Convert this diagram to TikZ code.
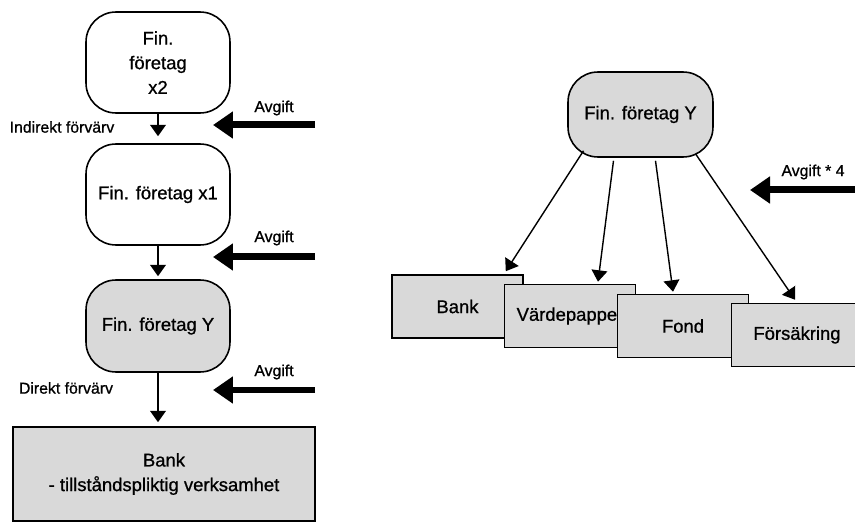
\documentclass[tikz,border=0pt]{standalone}
\usepackage{fontspec}
\setmainfont{Liberation Sans}[UprightFeatures={FakeBold=0.8}]
\usetikzlibrary{arrows.meta,calc}
\definecolor{boxgray}{gray}{0.85}
\tikzset{
  firm/.style={draw, line width=0.9pt, rounded corners=0.6cm, align=center, font=\fontsize{10.5}{14}\selectfont},
  firmgray/.style={firm, fill=boxgray},
  unitbox/.style={draw, line width=0.9pt, fill=boxgray, minimum width=2.62cm, minimum height=1.26cm, font=\fontsize{10.5}{14}\selectfont},
  arr/.style={-{Triangle[length=6.5pt,width=9pt]}, line width=0.8pt},
  fee/.style={-{Triangle[length=0.4cm,width=0.52cm]}, line width=0.14cm},
  lbl/.style={font=\fontsize{9}{11}\selectfont}
}
\begin{document}
\begin{tikzpicture}[x=0.02cm, y=-0.02cm]
        \useasboundingbox (0,0) rectangle (855,523);
        % left chain
        \node[firm, minimum width=2.88cm, minimum height=2.02cm] (x2) at (158,62.5) {Fin.\\företag\\x2};
        \node[firm, minimum width=2.88cm, minimum height=2.02cm] (x1) at (158,194.5) {Fin. företag x1};
        \node[firmgray, minimum width=2.88cm, minimum height=1.84cm] (yL) at (158,326) {Fin. företag Y};
        \node[unitbox, minimum width=6.04cm, minimum height=1.88cm, align=center] (bankL) at (164,474) {Bank\\- tillståndspliktig verksamhet};
        \draw[arr, shorten >=7*0.02cm] (x2) -- (x1);
        \draw[arr, shorten >=3*0.02cm] (x1) -- (yL);
        \draw[arr, shorten >=4*0.02cm] (yL.south) -- (yL.south |- bankL.north);
        \node[lbl] (indirekt) at (62,127) {Indirekt förvärv};
        \node[lbl] (direkt) at (66,388) {Direkt förvärv};
        % fees
        \node[lbl] (fee1) at (274,108) {Avgift};
        \node[lbl] (fee2) at (274,238) {Avgift};
        \node[lbl] (fee3) at (274,372) {Avgift};
        \coordinate (fee1s) at (315,125);
        \coordinate (fee1e) at (213,125);
        \coordinate (fee2s) at (315,257);
        \coordinate (fee2e) at (213,257);
        \coordinate (fee3s) at (315,390);
        \coordinate (fee3e) at (213,390);
        \draw[fee] (fee1s) -- (fee1e);
        \draw[fee] (fee2s) -- (fee2e);
        \draw[fee] (fee3s) -- (fee3e);
        % right group
        \node[firmgray, minimum width=2.9cm, minimum height=1.7cm] (yR) at (640.5,114.5) {Fin. företag Y};
        \node[unitbox] (bankS) at (457.5,306.5) {Bank};
        \node[unitbox] (papper) at (570,316) {Värdepapper};
        \node[unitbox] (fond) at (683,326) {Fond};
        \node[unitbox] (forsakring) at (797,335) {Försäkring};
        \draw[arr] ($(yR.south)+(-57,-7)$) -- ($(bankS.north east)+(-18,-3)$);
        \draw[arr] ($(yR.south)+(-27,3)$) -- ($(papper.north)+(28,-2)$);
        \draw[arr] ($(yR.south)+(15,3)$) -- ($(fond.north)+(-10,-2)$);
        \draw[arr] ($(yR.south)+(55,-4)$) -- ($(forsakring.north)+(-2,-3)$);
        \node[lbl] (fee4) at (813,172) {Avgift * 4};
        \coordinate (fee4s) at (855,190);
        \coordinate (fee4e) at (750,190);
        \draw[fee] (fee4s) -- (fee4e);
    \end{tikzpicture}
\end{document}
